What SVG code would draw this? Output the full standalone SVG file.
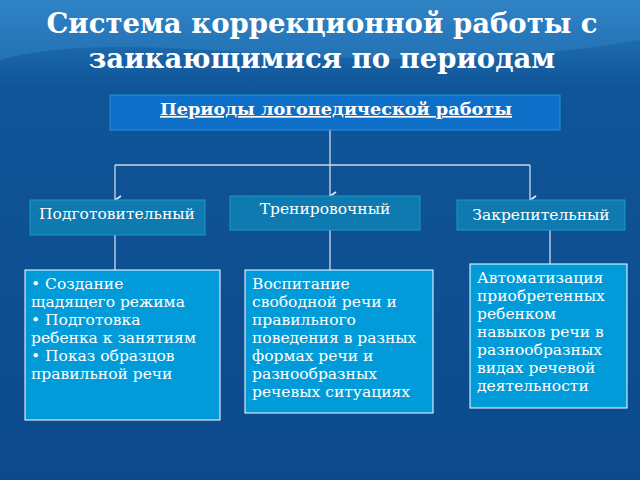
<svg xmlns="http://www.w3.org/2000/svg" width="640" height="480" viewBox="0 0 640 480">
<defs>
<linearGradient id="bg" x1="0" y1="0" x2="0" y2="1">
<stop offset="0" stop-color="#2a7ec0"/><stop offset="0.18" stop-color="#0f5598"/><stop offset="1" stop-color="#0c4a8c"/>
</linearGradient>
<marker id="arr" viewBox="0 0 12 12" refX="6" refY="11" markerWidth="12" markerHeight="12" orient="auto-start-reverse" markerUnits="userSpaceOnUse">
<path d="M2,5 L6,11 L10,5" fill="none" stroke="#e8eef5" stroke-width="1.6"/>
</marker>
<style>
.t{font-family:"DejaVu Serif","Liberation Serif",serif;fill:#ffffff}
.h{fill:#0f7ab0;stroke:#2196c8;stroke-width:1}
.b{fill:#009bd8;stroke:#ffffff;stroke-width:1}
.c{stroke:#cfd9e6;stroke-width:1.3;fill:none}
</style>
</defs>
<rect width="640" height="480" fill="url(#bg)"/>
<path d="M0,60 C150,20 350,90 640,40 L640,0 L0,0Z" fill="#3a8fd0" opacity="0.35"/>
<g id="title">
<text class="t" x="322" y="33" font-size="27.5" font-weight="bold" text-anchor="middle">Система коррекционной работы с</text>
<text class="t" x="322" y="68" font-size="27.5" font-weight="bold" text-anchor="middle">заикающимися по периодам</text>
</g>
<g id="connectors">
<path class="c" d="M330,130 V165"/>
<path class="c" d="M115,165 H530"/>
<path class="c" d="M115,165 V200" marker-end="url(#arr)"/>
<path class="c" d="M330,165 V196" marker-end="url(#arr)"/>
<path class="c" d="M530,165 V200" marker-end="url(#arr)"/>
<path class="c" d="M115,235 V270"/>
<path class="c" d="M330,230 V270"/>
<path class="c" d="M550,230 V264"/>
</g>
<g id="periods">
<rect x="110" y="95" width="450" height="35" fill="#0e6fc8" stroke="#2a90d8"/>
<text class="t" x="336" y="115" font-size="16.5" font-weight="bold" text-anchor="middle" text-decoration="underline" textLength="352" lengthAdjust="spacingAndGlyphs">Периоды логопедической работы</text>
</g>
<g id="prep"><rect class="h" x="30" y="200" width="175" height="35"/><text class="t" x="117" y="219" font-size="15.5" text-anchor="middle">Подготовительный</text></g>
<g id="train"><rect class="h" x="230" y="196" width="190" height="34"/><text class="t" x="325" y="214" font-size="15.5" text-anchor="middle">Тренировочный</text></g>
<g id="fix"><rect class="h" x="457" y="200" width="168" height="30"/><text class="t" x="541" y="220" font-size="15.5" text-anchor="middle">Закрепительный</text></g>
<g id="prep-d"><rect class="b" x="25" y="270" width="195" height="150"/>
<text class="t" font-size="15.5"><tspan x="31" y="289">• Создание</tspan><tspan x="31" y="307">щадящего режима</tspan><tspan x="31" y="325">• Подготовка</tspan><tspan x="31" y="343">ребенка к занятиям</tspan><tspan x="31" y="361">• Показ образцов</tspan><tspan x="31" y="379">правильной речи</tspan></text></g>
<g id="train-d"><rect class="b" x="245" y="270" width="188" height="143"/>
<text class="t" font-size="15.5"><tspan x="252" y="289">Воспитание</tspan><tspan x="252" y="307">свободной речи и</tspan><tspan x="252" y="325">правильного</tspan><tspan x="252" y="343">поведения в разных</tspan><tspan x="252" y="361">формах речи и</tspan><tspan x="252" y="379">разнообразных</tspan><tspan x="252" y="397">речевых ситуациях</tspan></text></g>
<g id="fix-d"><rect class="b" x="470" y="264" width="157" height="144"/>
<text class="t" font-size="15.5"><tspan x="477" y="283">Автоматизация</tspan><tspan x="477" y="301">приобретенных</tspan><tspan x="477" y="319">ребенком</tspan><tspan x="477" y="337">навыков речи в</tspan><tspan x="477" y="355">разнообразных</tspan><tspan x="477" y="373">видах речевой</tspan><tspan x="477" y="391">деятельности</tspan></text></g>
</svg>
